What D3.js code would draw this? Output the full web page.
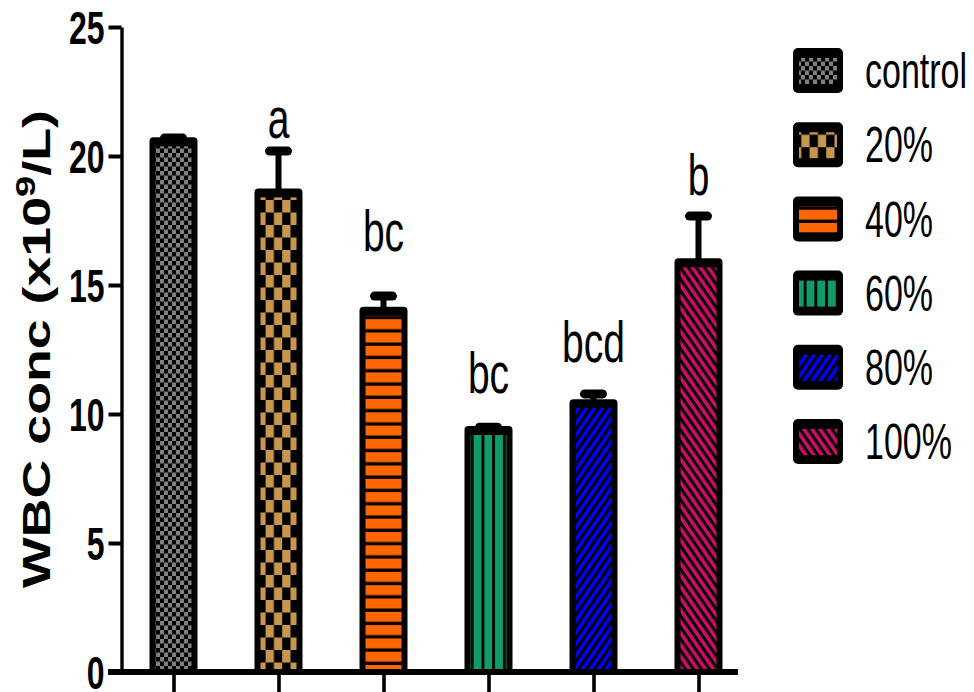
<!DOCTYPE html>
<html>
<head>
<meta charset="utf-8">
<script src="https://cdn.jsdelivr.net/npm/d3@7"></script>
<style>
  body { margin: 0; background: #fff; }
  svg { display: block; }
</style>
</head>
<body>
<svg id="chart" width="974" height="692"></svg>
<script>
// WBC concentration by treatment group (mean + SEM)
const groups = ["control", "20%", "40%", "60%", "80%", "100%"];
const means = [20.55, 18.57, 13.98, 9.36, 10.40, 15.86];
const sems = [0.15, 1.62, 0.59, 0.13, 0.38, 1.81];
// significance letters and the data level of their baselines
const letters = ["", "a", "bc", "bc", "bcd", "b"];
const letterLevels = [null, 20.7, 16.3, 10.8, 12.0, 18.5];
const yTicks = [0, 5, 10, 15, 20, 25];
const fills = ["#808080", "#C8964F", "#FF6600", "#109B69", "#0000FF", "#CF0A68"];

const FONT = "'Liberation Sans', Arial, sans-serif";
const SY = 1.45; // glyphs are drawn tall and narrow

const svg = d3.select("#chart");
const defs = svg.append("defs");

const y = d3.scaleLinear().domain([0, 25]).range([672, 27]);
const x = d3.scalePoint().domain(groups).range([121, 751]).padding(0.5);

// ---------- fill patterns ----------
function pat(id, w, h, transform) {
  const p = defs.append("pattern").attr("id", id)
    .attr("patternUnits", "userSpaceOnUse").attr("width", w).attr("height", h);
  if (transform) p.attr("patternTransform", transform);
  return p;
}
// control: fine grey checker on black
{
  const p = pat("p0", 8, 9);
  p.append("rect").attr("width", 8).attr("height", 9).attr("fill", "#000");
  p.append("rect").attr("x", 0).attr("y", 0).attr("width", 4).attr("height", 4.5).attr("fill", fills[0]);
  p.append("rect").attr("x", 4).attr("y", 4.5).attr("width", 4).attr("height", 4.5).attr("fill", fills[0]);
}
// 20%: coarse tan checker on black
{
  const p = pat("p1", 16.6, 25);
  p.append("rect").attr("width", 16.6).attr("height", 25).attr("fill", "#000");
  p.append("rect").attr("x", 0).attr("y", 0).attr("width", 8.3).attr("height", 12.5).attr("fill", fills[1]);
  p.append("rect").attr("x", 8.3).attr("y", 12.5).attr("width", 8.3).attr("height", 12.5).attr("fill", fills[1]);
}
// 40%: horizontal black rules on orange
{
  const p = pat("p2", 10, 13.3);
  p.append("rect").attr("width", 10).attr("height", 13.3).attr("fill", fills[2]);
  p.append("rect").attr("y", 10).attr("width", 10).attr("height", 3.3).attr("fill", "#000");
}
// 60%: vertical black rules on green
{
  const p = pat("p3", 10.7, 10);
  p.append("rect").attr("width", 10.7).attr("height", 10).attr("fill", fills[3]);
  p.append("rect").attr("x", 0).attr("width", 2.8).attr("height", 10).attr("fill", "#000");
}
// 80%: forward diagonals on blue
{
  const p = pat("p4", 8, 8, `scale(1,${SY})`);
  p.append("rect").attr("width", 8).attr("height", 8).attr("fill", fills[4]);
  p.append("path").attr("d", "M-2,2 L2,-2 M0,8 L8,0 M6,10 L10,6")
    .attr("stroke", "#000").attr("stroke-width", 2.6);
}
// 100%: back diagonals on magenta
{
  const p = pat("p5", 8, 8, `scale(1,${SY})`);
  p.append("rect").attr("width", 8).attr("height", 8).attr("fill", fills[5]);
  p.append("path").attr("d", "M-2,6 L2,10 M0,0 L8,8 M6,-2 L10,2")
    .attr("stroke", "#000").attr("stroke-width", 2.6);
}

const data = groups.map((g, i) => ({ g, i, m: means[i], e: sems[i], lab: letters[i], ly: letterLevels[i] }));

// ---------- bars ----------
const BW = 48, SIDE = 6, TOP = 9;
const bars = svg.append("g").selectAll("g").data(data).join("g");

// error bars (upper only) drawn first so the bar top covers the stem end
bars.append("rect")
  .attr("x", d => x(d.g) - 3)
  .attr("y", d => y(d.m + d.e))
  .attr("width", 6)
  .attr("height", d => y(d.m) - y(d.m + d.e))
  .attr("fill", "#000");
bars.append("rect")
  .attr("x", d => x(d.g) - 13.5)
  .attr("y", d => y(d.m + d.e) - 4.5)
  .attr("width", 27).attr("height", 9)
  .attr("rx", 4.5)
  .attr("fill", "#000");

bars.append("rect")
  .attr("x", d => x(d.g) - BW / 2)
  .attr("y", d => y(d.m) - TOP / 2)
  .attr("width", BW)
  .attr("height", d => y(0) - y(d.m) + TOP / 2)
  .attr("rx", 4)
  .attr("fill", "#000");
bars.append("rect")
  .attr("x", d => x(d.g) - BW / 2 + SIDE)
  .attr("y", d => y(d.m) + TOP / 2)
  .attr("width", BW - 2 * SIDE)
  .attr("height", d => y(0) - 2 - y(d.m) - TOP / 2)
  .attr("fill", d => `url(#p${d.i})`);

// significance letters
bars.filter(d => d.lab)
  .append("text")
  .attr("transform", d => `translate(${x(d.g)},${y(d.ly)}) scale(1,${SY})`)
  .attr("text-anchor", "middle")
  .style("font-family", FONT)
  .style("font-size", "39px")
  .attr("fill", "#000")
  .text(d => d.lab);

// ---------- axes ----------
const yAxis = svg.append("g")
  .attr("transform", "translate(121.5,0)")
  .call(d3.axisLeft(y).tickValues(yTicks).tickSize(13).tickSizeOuter(0).tickFormat(d3.format("d")));
yAxis.select(".domain").attr("stroke", "#000").attr("stroke-width", 3.4);
yAxis.selectAll(".tick line").attr("stroke", "#000").attr("stroke-width", 4);
yAxis.selectAll(".tick text")
  .attr("x", null).attr("dy", "0.36em")
  .attr("transform", `translate(-17,0) scale(1,${SY})`)
  .attr("text-anchor", "end")
  .attr("fill", "#000")
  .style("font-family", FONT)
  .style("font-size", "32px")
  .style("font-weight", "bold");

const xAxis = svg.append("g")
  .attr("transform", `translate(0,${y(0)})`)
  .call(d3.axisBottom(x).tickSize(20).tickSizeOuter(0).tickFormat(""));
xAxis.select(".domain").remove();
xAxis.selectAll(".tick line").attr("stroke", "#000").attr("stroke-width", 3.6);
xAxis.append("line")
  .attr("x1", 108).attr("x2", 738)
  .attr("y1", 0).attr("y2", 0)
  .attr("stroke", "#000").attr("stroke-width", 6);

// y-axis title, stretched along its length
const title = svg.append("text")
  .attr("text-anchor", "middle")
  .style("font-family", FONT)
  .style("font-size", "38px")
  .style("font-weight", "bold")
  .attr("fill", "#000");
title.append("tspan").text("WBC conc (x10");
title.append("tspan").attr("baseline-shift", "super").style("font-size", "27px").text("9");
title.append("tspan").text("/L)");
const tLen = title.node().getComputedTextLength();
title.attr("transform", `translate(50,349) rotate(-90) scale(${478 / tLen},1)`);

// ---------- legend ----------
const legend = svg.append("g").selectAll("g").data(data).join("g")
  .attr("transform", d => `translate(793,${48 + d.i * 74.2})`);
legend.append("rect")
  .attr("width", 50).attr("height", 45).attr("rx", 5)
  .attr("fill", "#000");
legend.append("rect")
  .attr("x", 6).attr("y", 10).attr("width", 38).attr("height", 26)
  .attr("fill", d => `url(#p${d.i})`);
legend.append("text")
  .attr("transform", `translate(72,22.5) scale(1,${SY})`)
  .attr("dy", "0.36em")
  .style("font-family", FONT)
  .style("font-size", "34px")
  .attr("fill", "#000")
  .text(d => d.g);
</script>
</body>
</html>
